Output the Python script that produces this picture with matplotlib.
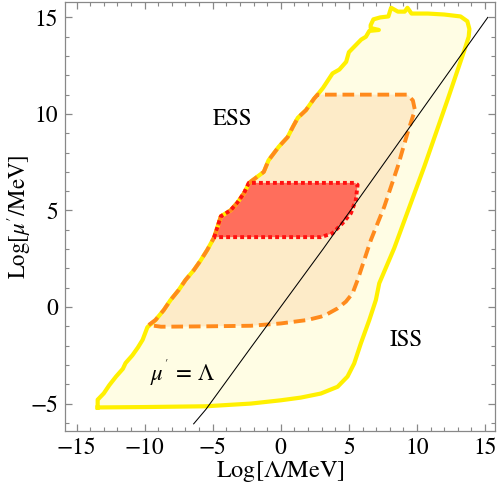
import matplotlib
matplotlib.use("Agg")
import matplotlib.pyplot as plt
from matplotlib.patches import Polygon
from matplotlib.ticker import MultipleLocator, FuncFormatter

plt.rcParams['font.family'] = ['STIXGeneral', 'Liberation Serif', 'DejaVu Serif']
plt.rcParams['mathtext.fontset'] = 'stix'

# ISS region outer boundary (yellow)
iss_x = [-13.45, -13.45, -13.0, -12.6, -12.1, -11.6, -11.4, -10.9, -10.5, -10.15, -9.8, -9.65,
         -9.2, -8.6, -8.1, -7.5, -7.0, -6.4, -5.9, -5.4, -4.9, -4.4, -3.7, -3.2, -2.7, -2.35,
         -2.2, -1.25, -0.9, -0.15, 0.5, 0.9, 1.25, 1.85, 2.45, 2.7,
         3.1, 3.8, 4.3, 4.8, 5.0, 5.9, 6.25, 6.5, 7.2, 6.6, 6.6, 6.8, 7.3, 7.9, 8.1, 8.6, 9.1,
         9.3, 9.6, 10.8, 12.0, 13.2, 13.7, 13.85, 13.8,
         13.5, 12.25, 10.54, 8.33, 7.23, 6.98, 6.5, 5.88, 5.39, 4.9, 4.17, 2.94, 1.47, 0.0,
         -2.2, -5.5, -10.0, -13.45]
iss_y = [-5.2, -4.8, -4.47, -4.05, -3.6, -3.2, -2.9, -2.5, -2.1, -1.7, -1.05, -0.95,
         -0.67, -0.16, 0.36, 0.88, 1.4, 1.9, 2.4, 2.96, 3.6, 4.7, 5.0, 5.4, 5.9, 6.4,
         6.5, 7.0, 7.6, 8.3, 8.8, 9.35, 9.8, 10.2, 10.8, 11.0,
         11.35, 12.1, 12.3, 12.7, 13.2, 13.85, 14.0, 14.3, 14.35, 14.45, 14.6, 14.9, 15.0, 15.05, 15.5, 15.3, 15.3,
         15.5, 15.2, 15.2, 15.15, 15.05, 14.8, 14.4, 14.0,
         13.34, 10.74, 7.28, 3.05, 1.23, 0.36, -0.67, -1.88, -2.92, -3.6, -4.13, -4.48, -4.69, -4.83,
         -5.0, -5.14, -5.18, -5.2]

# Middle region boundary (orange)
mid_x = [-9.7, -9.2, -8.6, -8.1, -7.5, -7.0, -6.4, -5.9, -5.4, -4.9, -4.4, -3.7, -3.2, -2.7, -2.35,
         -2.2, -1.25, -0.9, -0.15, 0.5, 0.9, 1.25, 1.85, 2.45, 2.7,
         9.3, 9.7, 9.85, 9.3, 8.6, 7.6, 6.62, 6.13, 5.64, 5.27, 4.78, 4.17, 3.43, 2.94, 1.96, 0.0,
         -2.2, -5.5, -8.8, -9.7]
mid_y = [-0.93, -0.67, -0.16, 0.36, 0.88, 1.4, 1.9, 2.4, 2.96, 3.6, 4.7, 5.0, 5.4, 5.9, 6.4,
         6.5, 7.0, 7.6, 8.3, 8.8, 9.35, 9.8, 10.2, 10.8, 11.0,
         11.0, 10.7, 10.2, 9.0, 7.3, 5.2, 3.48, 2.44, 1.4, 0.71, 0.28, -0.07, -0.36, -0.5, -0.67, -0.85,
         -0.97, -1.0, -1.02, -0.93]

# Inner region boundary (red)
in_x = [-4.9, -4.4, -3.7, -3.2, -2.7, -2.35, 5.45, 5.64, 5.51, 5.15, 4.53, 3.8, 2.94, -4.9]
in_y = [3.6, 4.7, 5.0, 5.4, 5.9, 6.43, 6.43, 6.33, 5.55, 4.86, 4.34, 3.82, 3.62, 3.62]

# mu' = Lambda line
line_x = [-6.4, -5.5, -2.2, 3.1, 15.2]
line_y = [-6.05, -5.3, -2.1, 3.0, 15.0]

fig = plt.figure(figsize=(4.98, 4.92), dpi=100)
ax = fig.add_axes([0.1305, 0.124, 0.864, 0.872])

def pts(xs, ys):
    return list(zip(xs, ys))

ax.add_patch(Polygon(pts(iss_x, iss_y), closed=True, facecolor='#FFFDE4', edgecolor='none', zorder=1))
ax.add_patch(Polygon(pts(mid_x, mid_y), closed=True, facecolor='#FDEBC8', edgecolor='none', zorder=2))
ax.add_patch(Polygon(pts(in_x, in_y), closed=True, facecolor='#FF6E5C', edgecolor='none', zorder=3))

ax.plot(iss_x + [iss_x[0]], iss_y + [iss_y[0]], color='#FFF000', lw=3.0, zorder=4,
        solid_joinstyle='round')
ax.plot(mid_x, mid_y, color='#FF8A1C', lw=2.8, zorder=5, dashes=(3.0, 1.5),
        dash_capstyle='butt')
ax.plot(in_x, in_y, color='#FF1010', lw=2.8, zorder=6, dashes=(1.0, 0.8),
        dash_capstyle='butt')
ax.plot(line_x, line_y, color='black', lw=0.75, zorder=7)

ax.text(-3.55, 9.7, 'ESS', fontsize=16.5, ha='center', va='center', zorder=8)
ax.text(9.2, -1.7, 'ISS', fontsize=16.5, ha='center', va='center', zorder=8)
ax.text(-7.2, -3.4, r"$\mu^{'}\,=\,\Lambda$", fontsize=16.5, ha='center', va='center', zorder=8)

ax.set_xlim(-15.85, 15.75)
ax.set_ylim(-6.42, 15.8)

ax.xaxis.set_major_locator(MultipleLocator(5))
ax.xaxis.set_minor_locator(MultipleLocator(1))
ax.yaxis.set_major_locator(MultipleLocator(5))
ax.yaxis.set_minor_locator(MultipleLocator(1))

fmt = FuncFormatter(lambda v, p: ('\u2212' + '%d' % abs(v)) if v < 0 else '%d' % v)
ax.xaxis.set_major_formatter(fmt)
ax.yaxis.set_major_formatter(fmt)

ax.tick_params(which='both', direction='in', top=True, right=True, color='#888888',
               labelsize=17, labelcolor='black')
ax.tick_params(which='major', length=5, width=0.9, pad=5)
ax.tick_params(which='minor', length=3, width=0.8)
for s in ax.spines.values():
    s.set_color('#888888')
    s.set_linewidth(0.9)

ax.set_xlabel(r"Log[$\Lambda$/MeV]", fontsize=17.5, labelpad=0)
ax.set_ylabel(r"Log[$\mu'$/MeV]", fontsize=16.5, va='center')
ax.yaxis.set_label_coords(-0.108, 0.5)

fig.savefig('out.png', dpi=100)
